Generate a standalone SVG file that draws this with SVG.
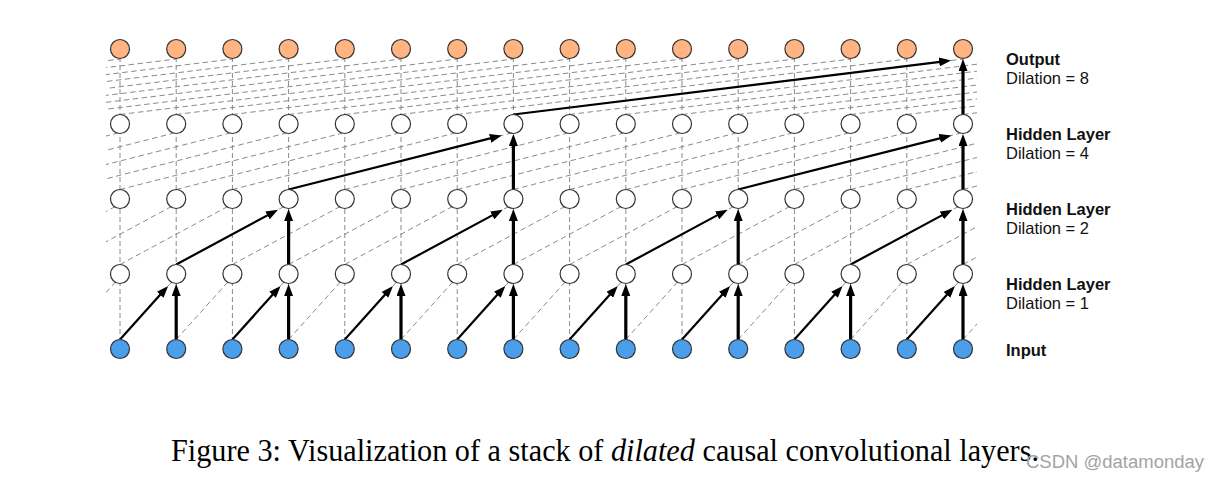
<svg xmlns="http://www.w3.org/2000/svg" width="1220" height="482" viewBox="0 0 1220 482">
<style>
.dash{fill:none;stroke:#8a8a8a;stroke-width:1;stroke-dasharray:5.5 3.5}
.vd{fill:none;stroke:#8a8a8a;stroke-width:1;stroke-dasharray:5 3}
.arr{fill:none;stroke:#000;stroke-width:2.2;marker-end:url(#ah)}
.varr{fill:none;stroke:#000;stroke-width:3.2;marker-end:url(#ah)}
.out{fill:#FFB482;stroke:#333;stroke-width:1.2}
.hid{fill:#fff;stroke:#333;stroke-width:1.2}
.inp{fill:#4A9EEA;stroke:#333;stroke-width:1.2}
.lb{font-family:"Liberation Sans",Arial,sans-serif;font-size:16.5px;fill:#111}
.b{font-weight:bold}
</style>
<defs>
<marker id="ah" markerUnits="userSpaceOnUse" markerWidth="12" markerHeight="9" refX="1" refY="4.5" orient="auto"><path d="M0,0L12,4.5L0,9z" fill="#000"/></marker>
<clipPath id="clip"><rect x="106" y="0" width="871" height="482"/></clipPath>
</defs>
<rect width="1220" height="482" fill="#fff"/>
<g id="connectors">
<path class="vd" d="M120,49V349M176.2,49V349M232.4,49V349M288.6,49V349M344.8,49V349M401,49V349M457.2,49V349M513.4,49V349M569.6,49V349M625.8,49V349M682,49V349M738.2,49V349M794.4,49V349M850.6,49V349M906.8,49V349M963,49V349"/>
<g clip-path="url(#clip)">
<path class="dash" d="M63.8,339.5L120,277M120,339.5L176.2,277M176.2,339.5L232.4,277M232.4,339.5L288.6,277M288.6,339.5L344.8,277M344.8,339.5L401,277M401,339.5L457.2,277M457.2,339.5L513.4,277M513.4,339.5L569.6,277M569.6,339.5L625.8,277M625.8,339.5L682,277M682,339.5L738.2,277M738.2,339.5L794.4,277M794.4,339.5L850.6,277M850.6,339.5L906.8,277M906.8,339.5L963,277M963,339.5L1019.2,277"/>
<path class="dash" d="M7.6,264.5L120,204M63.8,264.5L176.2,204M120,264.5L232.4,204M176.2,264.5L288.6,204M232.4,264.5L344.8,204M288.6,264.5L401,204M344.8,264.5L457.2,204M401,264.5L513.4,204M457.2,264.5L569.6,204M513.4,264.5L625.8,204M569.6,264.5L682,204M625.8,264.5L738.2,204M682,264.5L794.4,204M738.2,264.5L850.6,204M794.4,264.5L906.8,204M850.6,264.5L963,204M906.8,264.5L1019.2,204M963,264.5L1075.4,204"/>
<path class="dash" d="M-104.8,189.5L120,132.5M-48.6,189.5L176.2,132.5M7.6,189.5L232.4,132.5M63.8,189.5L288.6,132.5M120,189.5L344.8,132.5M176.2,189.5L401,132.5M232.4,189.5L457.2,132.5M288.6,189.5L513.4,132.5M344.8,189.5L569.6,132.5M401,189.5L625.8,132.5M457.2,189.5L682,132.5M513.4,189.5L738.2,132.5M569.6,189.5L794.4,132.5M625.8,189.5L850.6,132.5M682,189.5L906.8,132.5M738.2,189.5L963,132.5M794.4,189.5L1019.2,132.5M850.6,189.5L1075.4,132.5M906.8,189.5L1131.6,132.5M963,189.5L1187.8,132.5"/>
<path class="dash" d="M-329.6,114.5L120,59M-273.4,114.5L176.2,59M-217.2,114.5L232.4,59M-161,114.5L288.6,59M-104.8,114.5L344.8,59M-48.6,114.5L401,59M7.6,114.5L457.2,59M63.8,114.5L513.4,59M120,114.5L569.6,59M176.2,114.5L625.8,59M232.4,114.5L682,59M288.6,114.5L738.2,59M344.8,114.5L794.4,59M401,114.5L850.6,59M457.2,114.5L906.8,59M513.4,114.5L963,59M569.6,114.5L1019.2,59M625.8,114.5L1075.4,59M682,114.5L1131.6,59M738.2,114.5L1187.8,59M794.4,114.5L1244,59M850.6,114.5L1300.2,59M906.8,114.5L1356.4,59M963,114.5L1412.6,59"/>
</g>
<path class="arr" d="M120,339.5L160.82,294.1"/>
<path class="arr" d="M232.4,339.5L273.22,294.1"/>
<path class="arr" d="M344.8,339.5L385.62,294.1"/>
<path class="arr" d="M457.2,339.5L498.02,294.1"/>
<path class="arr" d="M569.6,339.5L610.42,294.1"/>
<path class="arr" d="M682,339.5L722.82,294.1"/>
<path class="arr" d="M794.4,339.5L835.22,294.1"/>
<path class="arr" d="M906.8,339.5L947.62,294.1"/>
<path class="varr" d="M176.2,339.5V295"/>
<path class="varr" d="M288.6,339.5V295"/>
<path class="varr" d="M401,339.5V295"/>
<path class="varr" d="M513.4,339.5V295"/>
<path class="varr" d="M625.8,339.5V295"/>
<path class="varr" d="M738.2,339.5V295"/>
<path class="varr" d="M850.6,339.5V295"/>
<path class="varr" d="M963,339.5V295"/>
<path class="arr" d="M176.2,264.5L268.35,214.9"/>
<path class="arr" d="M401,264.5L493.15,214.9"/>
<path class="arr" d="M625.8,264.5L717.95,214.9"/>
<path class="arr" d="M850.6,264.5L942.75,214.9"/>
<path class="varr" d="M288.6,264.5V220"/>
<path class="varr" d="M513.4,264.5V220"/>
<path class="varr" d="M738.2,264.5V220"/>
<path class="varr" d="M963,264.5V220"/>
<path class="arr" d="M288.6,189.5L491.11,138.15"/>
<path class="arr" d="M738.2,189.5L940.71,138.15"/>
<path class="varr" d="M513.4,189.5V145"/>
<path class="varr" d="M963,189.5V145"/>
<path class="arr" d="M513.4,114.5L940.17,61.82"/>
<path class="varr" d="M963,114.5V70"/>
</g>
<g id="output-layer">
<g id="o0"><circle class="out" cx="120" cy="49" r="9.5"/></g>
<g id="o1"><circle class="out" cx="176.2" cy="49" r="9.5"/></g>
<g id="o2"><circle class="out" cx="232.4" cy="49" r="9.5"/></g>
<g id="o3"><circle class="out" cx="288.6" cy="49" r="9.5"/></g>
<g id="o4"><circle class="out" cx="344.8" cy="49" r="9.5"/></g>
<g id="o5"><circle class="out" cx="401" cy="49" r="9.5"/></g>
<g id="o6"><circle class="out" cx="457.2" cy="49" r="9.5"/></g>
<g id="o7"><circle class="out" cx="513.4" cy="49" r="9.5"/></g>
<g id="o8"><circle class="out" cx="569.6" cy="49" r="9.5"/></g>
<g id="o9"><circle class="out" cx="625.8" cy="49" r="9.5"/></g>
<g id="o10"><circle class="out" cx="682" cy="49" r="9.5"/></g>
<g id="o11"><circle class="out" cx="738.2" cy="49" r="9.5"/></g>
<g id="o12"><circle class="out" cx="794.4" cy="49" r="9.5"/></g>
<g id="o13"><circle class="out" cx="850.6" cy="49" r="9.5"/></g>
<g id="o14"><circle class="out" cx="906.8" cy="49" r="9.5"/></g>
<g id="o15"><circle class="out" cx="963" cy="49" r="9.5"/></g>
</g>
<g id="hidden4-layer">
<g id="h4_0"><circle class="hid" cx="120" cy="124" r="9.5"/></g>
<g id="h4_1"><circle class="hid" cx="176.2" cy="124" r="9.5"/></g>
<g id="h4_2"><circle class="hid" cx="232.4" cy="124" r="9.5"/></g>
<g id="h4_3"><circle class="hid" cx="288.6" cy="124" r="9.5"/></g>
<g id="h4_4"><circle class="hid" cx="344.8" cy="124" r="9.5"/></g>
<g id="h4_5"><circle class="hid" cx="401" cy="124" r="9.5"/></g>
<g id="h4_6"><circle class="hid" cx="457.2" cy="124" r="9.5"/></g>
<g id="h4_7"><circle class="hid" cx="513.4" cy="124" r="9.5"/></g>
<g id="h4_8"><circle class="hid" cx="569.6" cy="124" r="9.5"/></g>
<g id="h4_9"><circle class="hid" cx="625.8" cy="124" r="9.5"/></g>
<g id="h4_10"><circle class="hid" cx="682" cy="124" r="9.5"/></g>
<g id="h4_11"><circle class="hid" cx="738.2" cy="124" r="9.5"/></g>
<g id="h4_12"><circle class="hid" cx="794.4" cy="124" r="9.5"/></g>
<g id="h4_13"><circle class="hid" cx="850.6" cy="124" r="9.5"/></g>
<g id="h4_14"><circle class="hid" cx="906.8" cy="124" r="9.5"/></g>
<g id="h4_15"><circle class="hid" cx="963" cy="124" r="9.5"/></g>
</g>
<g id="hidden2-layer">
<g id="h2_0"><circle class="hid" cx="120" cy="199" r="9.5"/></g>
<g id="h2_1"><circle class="hid" cx="176.2" cy="199" r="9.5"/></g>
<g id="h2_2"><circle class="hid" cx="232.4" cy="199" r="9.5"/></g>
<g id="h2_3"><circle class="hid" cx="288.6" cy="199" r="9.5"/></g>
<g id="h2_4"><circle class="hid" cx="344.8" cy="199" r="9.5"/></g>
<g id="h2_5"><circle class="hid" cx="401" cy="199" r="9.5"/></g>
<g id="h2_6"><circle class="hid" cx="457.2" cy="199" r="9.5"/></g>
<g id="h2_7"><circle class="hid" cx="513.4" cy="199" r="9.5"/></g>
<g id="h2_8"><circle class="hid" cx="569.6" cy="199" r="9.5"/></g>
<g id="h2_9"><circle class="hid" cx="625.8" cy="199" r="9.5"/></g>
<g id="h2_10"><circle class="hid" cx="682" cy="199" r="9.5"/></g>
<g id="h2_11"><circle class="hid" cx="738.2" cy="199" r="9.5"/></g>
<g id="h2_12"><circle class="hid" cx="794.4" cy="199" r="9.5"/></g>
<g id="h2_13"><circle class="hid" cx="850.6" cy="199" r="9.5"/></g>
<g id="h2_14"><circle class="hid" cx="906.8" cy="199" r="9.5"/></g>
<g id="h2_15"><circle class="hid" cx="963" cy="199" r="9.5"/></g>
</g>
<g id="hidden1-layer">
<g id="h1_0"><circle class="hid" cx="120" cy="274" r="9.5"/></g>
<g id="h1_1"><circle class="hid" cx="176.2" cy="274" r="9.5"/></g>
<g id="h1_2"><circle class="hid" cx="232.4" cy="274" r="9.5"/></g>
<g id="h1_3"><circle class="hid" cx="288.6" cy="274" r="9.5"/></g>
<g id="h1_4"><circle class="hid" cx="344.8" cy="274" r="9.5"/></g>
<g id="h1_5"><circle class="hid" cx="401" cy="274" r="9.5"/></g>
<g id="h1_6"><circle class="hid" cx="457.2" cy="274" r="9.5"/></g>
<g id="h1_7"><circle class="hid" cx="513.4" cy="274" r="9.5"/></g>
<g id="h1_8"><circle class="hid" cx="569.6" cy="274" r="9.5"/></g>
<g id="h1_9"><circle class="hid" cx="625.8" cy="274" r="9.5"/></g>
<g id="h1_10"><circle class="hid" cx="682" cy="274" r="9.5"/></g>
<g id="h1_11"><circle class="hid" cx="738.2" cy="274" r="9.5"/></g>
<g id="h1_12"><circle class="hid" cx="794.4" cy="274" r="9.5"/></g>
<g id="h1_13"><circle class="hid" cx="850.6" cy="274" r="9.5"/></g>
<g id="h1_14"><circle class="hid" cx="906.8" cy="274" r="9.5"/></g>
<g id="h1_15"><circle class="hid" cx="963" cy="274" r="9.5"/></g>
</g>
<g id="input-layer">
<g id="i0"><circle class="inp" cx="120" cy="349" r="9.5"/></g>
<g id="i1"><circle class="inp" cx="176.2" cy="349" r="9.5"/></g>
<g id="i2"><circle class="inp" cx="232.4" cy="349" r="9.5"/></g>
<g id="i3"><circle class="inp" cx="288.6" cy="349" r="9.5"/></g>
<g id="i4"><circle class="inp" cx="344.8" cy="349" r="9.5"/></g>
<g id="i5"><circle class="inp" cx="401" cy="349" r="9.5"/></g>
<g id="i6"><circle class="inp" cx="457.2" cy="349" r="9.5"/></g>
<g id="i7"><circle class="inp" cx="513.4" cy="349" r="9.5"/></g>
<g id="i8"><circle class="inp" cx="569.6" cy="349" r="9.5"/></g>
<g id="i9"><circle class="inp" cx="625.8" cy="349" r="9.5"/></g>
<g id="i10"><circle class="inp" cx="682" cy="349" r="9.5"/></g>
<g id="i11"><circle class="inp" cx="738.2" cy="349" r="9.5"/></g>
<g id="i12"><circle class="inp" cx="794.4" cy="349" r="9.5"/></g>
<g id="i13"><circle class="inp" cx="850.6" cy="349" r="9.5"/></g>
<g id="i14"><circle class="inp" cx="906.8" cy="349" r="9.5"/></g>
<g id="i15"><circle class="inp" cx="963" cy="349" r="9.5"/></g>
</g>
<g id="labels">
<text class="lb b" x="1006" y="65">Output</text>
<text class="lb" x="1006" y="84">Dilation = 8</text>
<text class="lb b" x="1006" y="140">Hidden Layer</text>
<text class="lb" x="1006" y="159">Dilation = 4</text>
<text class="lb b" x="1006" y="215">Hidden Layer</text>
<text class="lb" x="1006" y="234">Dilation = 2</text>
<text class="lb b" x="1006" y="290">Hidden Layer</text>
<text class="lb" x="1006" y="309">Dilation = 1</text>
<text class="lb b" x="1006" y="356">Input</text>
</g>
<text x="171" y="461" font-family="'Liberation Serif','Times New Roman',serif" font-size="31.5" fill="#000" textLength="868" lengthAdjust="spacingAndGlyphs">Figure 3: Visualization of a stack of <tspan font-style="italic">dilated</tspan> causal convolutional layers.</text>
<text x="1026" y="468" font-family="'Liberation Sans',Arial,sans-serif" font-size="18" fill="#a3a3a3" textLength="178" lengthAdjust="spacingAndGlyphs">CSDN @datamonday</text>
</svg>
